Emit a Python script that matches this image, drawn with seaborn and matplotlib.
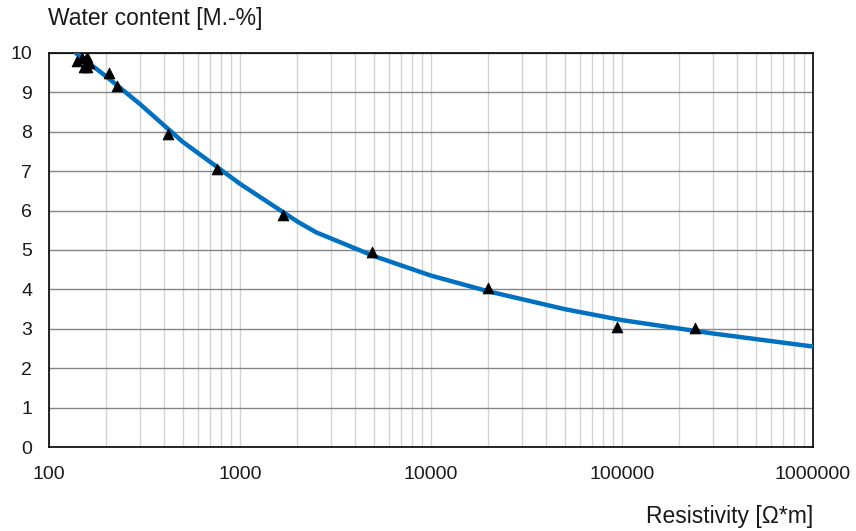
import matplotlib
matplotlib.use("Agg")
import matplotlib.pyplot as plt
import matplotlib.ticker as mticker
import seaborn as sns
import pandas as pd

# measured points (resistivity, water content)
res_meas = [140, 148, 152, 158, 158, 162, 206, 227, 420, 758, 1680, 4900, 20000, 93700, 240000]
wc_meas = [9.8, 9.88, 9.65, 9.65, 9.9, 9.75, 9.5, 9.15, 7.95, 7.05, 5.9, 4.95, 4.03, 3.05, 3.02]

# fitted curve
res_fit = [138, 200, 300, 500, 1000, 2000, 2500, 5000, 10000, 20000, 50000, 100000, 300000, 1000000]
wc_fit = [10.0, 9.4, 8.7, 7.75, 6.68, 5.72, 5.45, 4.85, 4.35, 3.95, 3.5, 3.22, 2.88, 2.55]

sns.set_style("white")
plt.rcParams['font.family'] = ['Liberation Sans', 'DejaVu Sans']

fig = plt.figure(figsize=(8.56, 5.31), dpi=100)
ax = fig.add_axes([49/856, 1-447/531, (813-49)/856, (447-53)/531])

fit = pd.DataFrame({"res": res_fit, "wc": wc_fit})
meas = pd.DataFrame({"res": res_meas, "wc": wc_meas})

ax.set_xscale("log")
sns.lineplot(data=fit, x="res", y="wc", ax=ax, color="#0070C0", linewidth=3.2, zorder=3)
sns.scatterplot(data=meas, x="res", y="wc", ax=ax, marker="^", color="black", s=60, zorder=4, edgecolor="black")

ax.set_xlim(100, 1e6)
ax.set_ylim(0, 10)
ax.set_yticks(range(0, 11))
ax.xaxis.set_major_locator(mticker.LogLocator(base=10, numticks=10))
ax.xaxis.set_major_formatter(mticker.FuncFormatter(lambda v, p: f"{int(round(v))}"))
ax.xaxis.set_minor_locator(mticker.LogLocator(base=10, subs=range(2, 10), numticks=100))
ax.xaxis.set_minor_formatter(mticker.NullFormatter())

ax.grid(True, which="major", axis="y", color="#868686", linewidth=1)
ax.grid(True, which="both", axis="x", color="#d4d4d4", linewidth=1)
ax.set_axisbelow(True)

for s in ax.spines.values():
    s.set_color("black")
    s.set_linewidth(1.2)

ax.tick_params(axis="both", which="major", labelsize=14, length=6, color="#808080",
               direction="out", labelcolor="#1a1a1a")
ax.tick_params(axis="x", which="minor", length=0)
ax.tick_params(axis="x", pad=8)
ax.tick_params(axis="y", pad=6)
ax.set_xlabel("")
ax.set_ylabel("")

fig.text(48/856, 1-19/531, "Water content [M.-%]", fontsize=16.5, ha="left", va="center", color="#1a1a1a")
fig.text(813/856, 1-517/531, "Resistivity [Ω*m]", fontsize=16.5, ha="right", va="center", color="#1a1a1a")

fig.savefig("out.png", dpi=100)
